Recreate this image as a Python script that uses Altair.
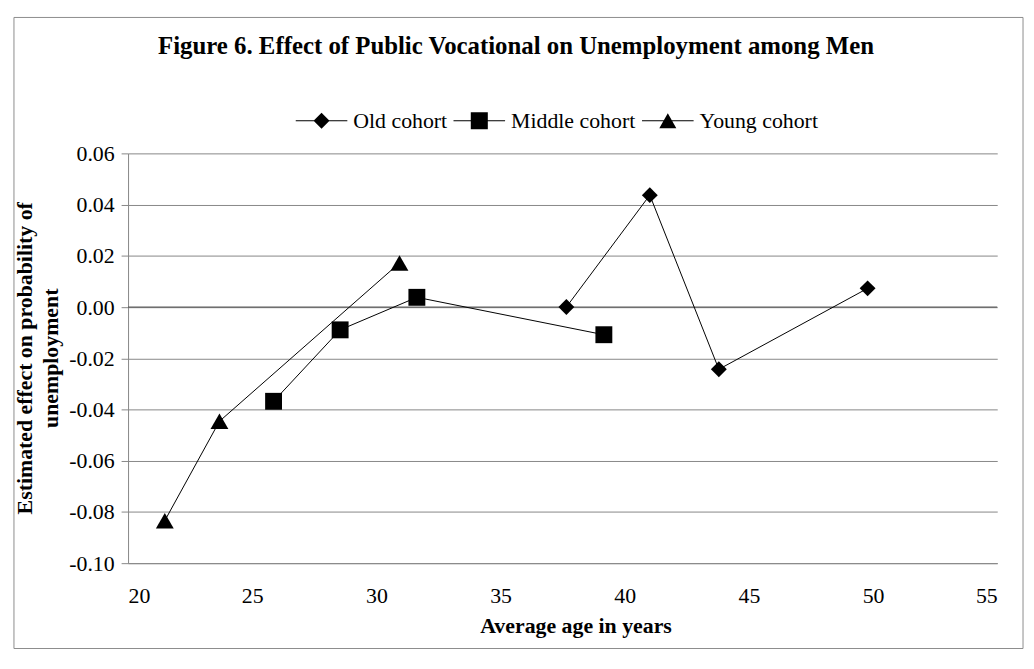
import altair as alt
import pandas as pd

# ---- data ----
series_names = ["Old cohort", "Middle cohort", "Young cohort"]
old_age = [37.65, 41.01, 43.79, 49.78]
old_effect = [0.000, 0.0437, -0.0243, 0.0073]
middle_age = [25.86, 28.54, 31.63, 39.16]
middle_effect = [-0.0368, -0.0089, 0.0038, -0.0108]
young_age = [21.48, 23.68, 30.93]
young_effect = [-0.0834, -0.0446, 0.0172]
x_ticks = [20, 25, 30, 35, 40, 45, 50, 55]
y_ticks = [-0.10, -0.08, -0.06, -0.04, -0.02, 0.00, 0.02, 0.04, 0.06]
title_text = "Figure 6. Effect of Public Vocational on Unemployment among Men"
x_title = "Average age in years"
y_title = ["Estimated effect on probability of", "unemployment"]

rows = []
for name, ages, effs in [(series_names[0], old_age, old_effect),
                         (series_names[1], middle_age, middle_effect),
                         (series_names[2], young_age, young_effect)]:
    for a, e in zip(ages, effs):
        rows.append({"series": name, "age": a, "effect": e})
df = pd.DataFrame(rows)

FONT = "Times New Roman, Liberation Serif, DejaVu Serif, serif"
GRID = "#878787"

x_enc = alt.X("age:Q", scale=alt.Scale(domain=[x_ticks[0], x_ticks[-1]], nice=False, zero=False),
              axis=alt.Axis(values=x_ticks, format="d", grid=False, ticks=False, tickSize=0,
                            labelPadding=23, domainColor=GRID,
                            labelFont=FONT, labelFontSize=22, labelColor="black",
                            title=x_title, titleFont=FONT, titleFontSize=22, titleFontWeight="bold",
                            titleX=451, titleY=70, titleBaseline="alphabetic", titleColor="black"))
y_enc = alt.Y("effect:Q", scale=alt.Scale(domain=[y_ticks[0], y_ticks[-1]], nice=False, zero=False),
              axis=alt.Axis(values=y_ticks,
                            labelExpr="(datum.value < -0.000001 ? '-' : '') + format(abs(datum.value), '.2f')",
                            grid=True, gridColor=GRID, tickColor=GRID,
                            tickSize=7, labelPadding=7, domainColor=GRID,
                            labelFont=FONT, labelFontSize=22, labelColor="black",
                            title=y_title, titleFont=FONT, titleFontSize=22, titleFontWeight="bold",
                            titleLineHeight=26, titleAngle=270, titleX=-97, titleY=206,
                            titleBaseline="alphabetic", titleAlign="center", titleColor="black"))

base = alt.Chart(df)

frame = alt.Chart(pd.DataFrame({"k": [0]})).mark_rect(
    filled=False, stroke="#8c8c8c", strokeWidth=1
).encode(x=alt.value(-115), x2=alt.value(902), y=alt.value(-137), y2=alt.value(499))

title = alt.Chart(pd.DataFrame({"t": [title_text]})).mark_text(
    font=FONT, fontSize=25, fontWeight="bold", color="black", baseline="alphabetic", align="center"
).encode(text="t:N", x=alt.value(391), y=alt.value(-100))

zero_rule = alt.Chart(pd.DataFrame({"z": [0.0]})).mark_rule(color="#4a4a4a", strokeWidth=1).encode(
    y=alt.Y("z:Q")
)

lines = base.mark_line(color="black", strokeWidth=1).encode(
    x=x_enc, y=y_enc, detail="series:N", order="age:Q"
)

points = base.mark_point(filled=True, color="black", opacity=1).encode(
    x="age:Q", y="effect:Q",
    shape=alt.Shape("series:N", scale=alt.Scale(domain=series_names,
                                               range=["diamond", "square", "triangle-up"]), legend=None),
    size=alt.Size("series:N", scale=alt.Scale(domain=series_names, range=[256, 324, 270]), legend=None),
)

seg = "M-1,-0.02L1,-0.02L1,0.02L-1,0.02Z"
legend_paths = [
    seg + "M0,-0.31L0.31,0L0,0.31L-0.31,0Z",
    seg + "M-0.33,-0.33L0.33,-0.33L0.33,0.33L-0.33,0.33Z",
    seg + "M0,-0.29L0.33,0.29L-0.33,0.29Z",
]

legend_layer = base.mark_point(filled=True, color="black", opacity=1).encode(
    shape=alt.Shape("series:N", scale=alt.Scale(domain=series_names, range=legend_paths),
                    legend=alt.Legend(title=None, orient="none", direction="horizontal",
                                      legendX=169, legendY=-59, padding=0,
                                      symbolSize=2704, symbolFillColor="black", symbolStrokeWidth=0,
                                      symbolOpacity=1, labelFont=FONT, labelFontSize=22,
                                      labelColor="black", labelOffset=6, columnPadding=6,
                                      labelLimit=400))
).transform_filter("false")

chart = alt.layer(frame, title, zero_rule, lines, points, legend_layer).resolve_scale(
    shape="independent", size="independent"
).properties(
    width=876, height=413,
    autosize=alt.AutoSizeParams(type="none"),
    padding={"left": 121, "top": 144, "right": 29, "bottom": 88},
    background="white",
).configure(font=FONT).configure_view(stroke="transparent").configure_axis(
    labelFont=FONT, labelFontSize=22, labelColor="black"
).configure_legend(labelFont=FONT)

chart.save("out.html", embed_options={"renderer": "svg", "actions": False})
